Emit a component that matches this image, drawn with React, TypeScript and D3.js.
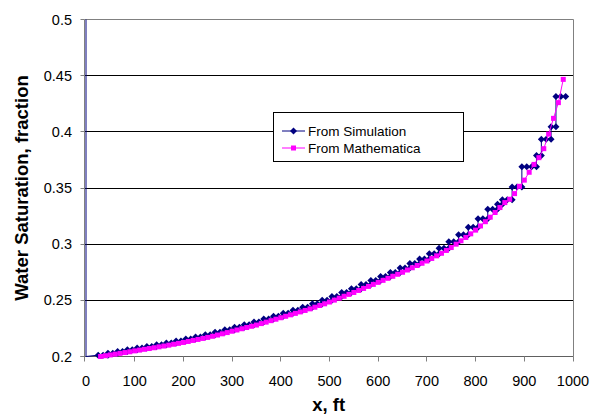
import React from "react";
import * as d3 from "d3";

const xTicks = [0, 100, 200, 300, 400, 500, 600, 700, 800, 900, 1000];
const yTicks = [0.2, 0.25, 0.3, 0.35, 0.4, 0.45, 0.5];
const yTickLabels = ["0.2", "0.25", "0.3", "0.35", "0.4", "0.45", "0.5"];
const seriesNames = ["From Simulation", "From Mathematica"];

// Simulation: line-only lead (injector cell, clipped above the axis)
const simLeadX = [0, 0];
const simLeadY = [0.8, 0.2];

// Simulation (staircase, points with markers)
const simX = [
  25, 35, 45, 45, 55, 65, 65, 75, 85, 85, 95, 105, 105, 115, 125, 125, 135, 145,
  145, 155, 165, 165, 175, 185, 185, 195, 205, 205, 215, 225, 225, 235, 245,
  245, 255, 265, 265, 275, 285, 285, 295, 305, 305, 315, 325, 325, 335, 345,
  345, 355, 365, 365, 375, 385, 385, 395, 405, 405, 415, 425, 425, 435, 445,
  445, 455, 465, 465, 475, 485, 485, 495, 505, 505, 515, 525, 525, 535, 545,
  545, 555, 565, 565, 575, 585, 585, 595, 605, 605, 615, 625, 625, 635, 645,
  645, 655, 665, 665, 675, 685, 685, 695, 705, 705, 715, 725, 725, 735, 745,
  745, 755, 765, 765, 775, 785, 785, 795, 805, 805, 815, 825, 825, 835, 845,
  845, 855, 855, 865, 875, 875, 885, 895, 895, 905, 915, 925, 925, 935,
  935, 945, 955, 955, 965, 965, 975, 985,
];
const simY = [
  0.2012, 0.2012, 0.2012, 0.203, 0.203, 0.203, 0.2045, 0.2045, 0.2045,
  0.206, 0.206, 0.206, 0.2075, 0.2075, 0.2075, 0.209, 0.209, 0.209,
  0.2105, 0.2105, 0.2105, 0.212, 0.212, 0.212, 0.2137, 0.2137, 0.2137,
  0.2155, 0.2155, 0.2155, 0.2173, 0.2173, 0.2173, 0.2193, 0.2193, 0.2193,
  0.2215, 0.2215, 0.2215, 0.2238, 0.2238, 0.2238, 0.226, 0.226, 0.226,
  0.2282, 0.2282, 0.2282, 0.2307, 0.2307, 0.2307, 0.2333, 0.2333, 0.2333,
  0.2359, 0.2359, 0.2359, 0.2385, 0.2385, 0.2385, 0.2411, 0.2411, 0.2411,
  0.2439, 0.2439, 0.2439, 0.2469, 0.2469, 0.2469, 0.2501, 0.2501, 0.2501,
  0.2535, 0.2535, 0.2535, 0.2569, 0.2569, 0.2569, 0.2604, 0.2604, 0.2604,
  0.264, 0.264, 0.264, 0.2676, 0.2676, 0.2676, 0.2712, 0.2712, 0.2712,
  0.2748, 0.2748, 0.2748, 0.2787, 0.2787, 0.2787, 0.2827, 0.2827, 0.2827,
  0.2869, 0.2869, 0.2869, 0.2915, 0.2915, 0.2915, 0.2964, 0.2964, 0.2964,
  0.3022, 0.3022, 0.3022, 0.3083, 0.3083, 0.3083, 0.3151, 0.3151, 0.3151,
  0.3227, 0.3227, 0.3227, 0.3311, 0.3311, 0.3311,
  0.3355, 0.3355, 0.3395, 0.3395, 0.3395, 0.351, 0.351, 0.351,
  0.369, 0.369, 0.369, 0.369, 0.379, 0.379,
  0.3935, 0.3935, 0.3935, 0.4045, 0.4045, 0.4315, 0.4315, 0.4315,
];

// Mathematica solution
const mathX = [
  30, 40, 50, 60, 70, 80, 90, 100, 110, 120, 130, 140, 150, 160, 170, 180, 190,
  200, 210, 220, 230, 240, 250, 260, 270, 280, 290, 300, 310, 320, 330, 340,
  350, 360, 370, 380, 390, 400, 410, 420, 430, 440, 450, 460, 470, 480, 490,
  500, 510, 520, 530, 540, 550, 560, 570, 580, 590, 600, 610, 620, 630, 640,
  650, 660, 670, 680, 690, 700, 710, 720, 730, 740, 750, 760, 770, 780, 790,
  800, 810, 820, 830, 840, 850, 860, 870, 880, 890, 900, 910, 920, 930, 940,
  950, 960, 970, 980,
];
const mathY = [
  0.2, 0.2007, 0.2014, 0.2021, 0.2028, 0.2035, 0.2042, 0.205, 0.2057, 0.2064,
  0.2071, 0.2078, 0.2086, 0.2093, 0.2101, 0.2109, 0.2117, 0.2125, 0.2134,
  0.2143, 0.2152, 0.2161, 0.217, 0.218, 0.2191, 0.2202, 0.2213, 0.2225,
  0.2236, 0.2247, 0.2258, 0.2269, 0.228, 0.2293, 0.2306, 0.2319, 0.2332,
  0.2345, 0.2358, 0.2371, 0.2384, 0.2397, 0.241, 0.2424, 0.2439, 0.2454,
  0.2469, 0.2485, 0.2502, 0.2519, 0.2536, 0.2553, 0.257, 0.2588, 0.2606,
  0.2624, 0.2642, 0.266, 0.2678, 0.2696, 0.2714, 0.2732, 0.275, 0.277, 0.279,
  0.281, 0.283, 0.285, 0.2873, 0.2896, 0.2919, 0.2944, 0.297, 0.3, 0.303,
  0.306, 0.3092, 0.3125, 0.3162, 0.32, 0.324, 0.3282, 0.3326, 0.337, 0.34,
  0.345, 0.3515, 0.357, 0.364, 0.371, 0.377, 0.385, 0.398, 0.412, 0.426,
  0.4467,
];

const W = 592;
const H = 416;
const AX = 84.5; // y-axis line
const L = 86;
const R = 573;
const T = 19.5;
const B = 356.5;

const FONT = "'Liberation Sans', Arial, sans-serif";
const NAVY = "#000080";
const MAGENTA = "#FF00FF";

export default function App() {
  const x = d3.scaleLinear().domain([0, 1000]).range([L, R]);
  const y = d3.scaleLinear().domain([0.2, 0.5]).range([B, T]);
  const rp = (v: number) => Math.round(v - 0.5) + 0.5;

  const line = d3
    .line<[number, number]>()
    .x((d) => x(d[0]))
    .y((d) => y(d[1]));

  const simPts: [number, number][] = simX.map((v, i) => [v, simY[i]]);
  const simLine: [number, number][] = [
    ...simLeadX.map((v, i) => [v, simLeadY[i]] as [number, number]),
    ...simPts,
  ];
  const mathPts: [number, number][] = mathX.map((v, i) => [v, mathY[i]]);

  const diamond = (cx: number, cy: number, s: number) =>
    `M${cx},${cy - s}L${cx + s},${cy}L${cx},${cy + s}L${cx - s},${cy}Z`;

  const legX = 273.5;
  const legY = 112.5;
  const legW = 190;
  const legH = 49;
  const rows = [131, 148];

  return (
    <svg
      width={W}
      height={H}
      style={{ position: "absolute", left: 0, top: 0, background: "#fff" }}
      fontFamily={FONT}
    >
      <defs>
        <clipPath id="plotclip">
          <rect x={AX + 0.5} y={T} width={R - AX} height={B - T + 4} />
        </clipPath>
      </defs>
      <rect x={0} y={0} width={W} height={H} fill="#fff" />
      {/* gridlines */}
      {yTicks.slice(1, -1).map((t) => (
        <line
          key={"g" + t}
          x1={AX}
          x2={R}
          y1={rp(y(t))}
          y2={rp(y(t))}
          stroke="#000"
          strokeWidth={1}
        />
      ))}
      {/* plot border top/right */}
      <line x1={AX} x2={R + 0.5} y1={rp(T)} y2={rp(T)} stroke="#808080" />
      <line x1={R + 0.5} x2={R + 0.5} y1={rp(T)} y2={B} stroke="#808080" />
      {/* axes */}
      <line x1={AX} x2={AX} y1={rp(T)} y2={B + 4} stroke="#808080" />
      <line x1={AX - 4} x2={R + 0.5} y1={B} y2={B} stroke="#606060" />
      {yTicks.map((t) => (
        <line
          key={"yt" + t}
          x1={AX - 4}
          x2={AX}
          y1={rp(y(t))}
          y2={rp(y(t))}
          stroke="#808080"
        />
      ))}
      {xTicks.map((t) => (
        <line
          key={"xt" + t}
          x1={t === 0 ? AX : rp(x(t))}
          x2={t === 0 ? AX : rp(x(t))}
          y1={B}
          y2={B + 5}
          stroke="#808080"
        />
      ))}
      {yTicks.map((t, i) => (
        <text
          key={"yl" + t}
          x={72}
          y={y(t)}
          dy="0.35em"
          textAnchor="end"
          fontSize={14.5}
          fill="#000"
        >
          {yTickLabels[i]}
        </text>
      ))}
      {xTicks.map((t) => (
        <text
          key={"xl" + t}
          x={x(t)}
          y={386}
          textAnchor="middle"
          fontSize={14.5}
          fill="#000"
        >
          {t}
        </text>
      ))}
      <text
        x={(AX + R) / 2}
        y={410.5}
        textAnchor="middle"
        fontSize={18.5}
        fontWeight="bold"
      >
        x, ft
      </text>
      <text
        transform={`translate(28,${(T + B) / 2}) rotate(-90)`}
        textAnchor="middle"
        fontSize={18.5}
        fontWeight="bold"
      >
        Water Saturation, fraction
      </text>

      {/* series */}
      <g clipPath="url(#plotclip)">
        <path d={line(simLine) || ""} fill="none" stroke={NAVY} strokeWidth={1} />
        {simPts.map((p, i) => (
          <path key={"sm" + i} d={diamond(x(p[0]), y(p[1]), 3.5)} fill={NAVY} />
        ))}
        <path
          d={line(mathPts) || ""}
          fill="none"
          stroke={MAGENTA}
          strokeWidth={1}
        />
        {mathPts.map((p, i) => (
          <rect
            key={"mm" + i}
            x={x(p[0]) - 2.5}
            y={y(p[1]) - 2.5}
            width={5}
            height={5}
            fill={MAGENTA}
          />
        ))}
      </g>

      {/* legend */}
      <rect
        x={legX}
        y={legY}
        width={legW}
        height={legH}
        fill="#fff"
        stroke="#000"
        strokeWidth={1}
      />
      <line x1={282} x2={305} y1={rows[0]} y2={rows[0]} stroke={NAVY} />
      <path d={diamond(293.5, rows[0], 3.5)} fill={NAVY} />
      <text x={308} y={rows[0]} dy="0.35em" fontSize={13.5}>
        {seriesNames[0]}
      </text>
      <line x1={282} x2={305} y1={rows[1]} y2={rows[1]} stroke={MAGENTA} />
      <rect x={291} y={rows[1] - 2.5} width={5} height={5} fill={MAGENTA} />
      <text x={308} y={rows[1]} dy="0.35em" fontSize={13.5}>
        {seriesNames[1]}
      </text>
    </svg>
  );
}
